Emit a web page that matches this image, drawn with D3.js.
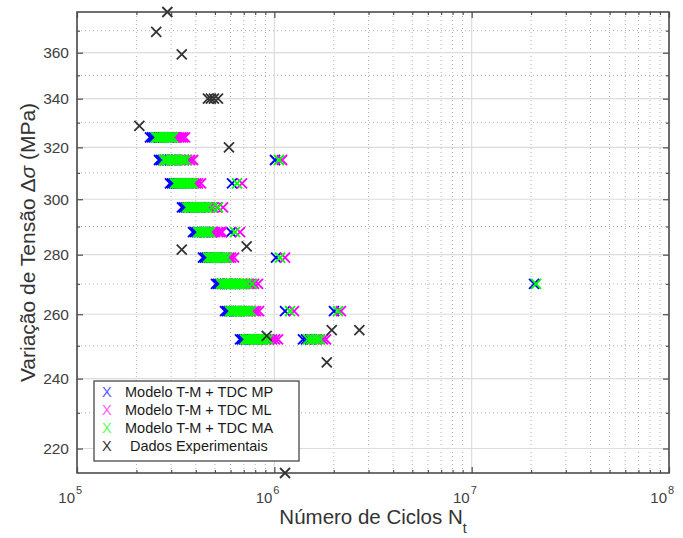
<!DOCTYPE html>
<html>
<head>
<meta charset="utf-8">
<script src="https://cdn.jsdelivr.net/npm/d3@7"></script>
<style>
    body { margin: 0; background: #fff; }
    svg { display: block; font-family: "Liberation Sans", Arial, sans-serif; }
</style>
</head>
<body>
<div id="chart"></div>
<script>
// niveis de tensao (MPa) - um por faixa
var stressLevels = [324, 315, 306, 297, 288, 279, 270, 261, 252];

// ciclos previstos, um array por nivel (mesma ordem de stressLevels)
var cyclesMP = [
    [2.344e5, 2.399e5, 2.456e5, 2.514e5, 2.574e5, 2.634e5, 2.728e5, 2.825e5, 2.926e5, 3.030e5],
    [2.604e5, 2.665e5, 2.728e5, 2.792e5, 2.858e5, 2.960e5, 3.065e5, 3.174e5, 3.327e5, 1.008e6],
    [2.960e5, 3.030e5, 3.101e5, 3.174e5, 3.249e5, 3.366e5, 3.486e5, 3.610e5, 6.104e5],
    [3.405e5, 3.486e5, 3.568e5, 3.652e5, 3.783e5, 3.917e5, 4.057e5, 4.202e5],
    [3.872e5, 3.963e5, 4.057e5, 4.153e5, 4.301e5, 4.454e5, 4.613e5, 4.833e5, 6.033e5],
    [4.351e5, 4.454e5, 4.559e5, 4.667e5, 4.777e5, 4.948e5, 5.124e5, 5.306e5, 1.020e6],
    [5.064e5, 5.184e5, 5.306e5, 5.431e5, 5.625e5, 5.826e5, 6.033e5, 6.322e5, 2.072e7],
    [5.625e5, 5.758e5, 5.894e5, 6.033e5, 6.248e5, 6.471e5, 6.701e5, 1.133e6, 2.006e6],
    [6.701e5, 6.860e5, 7.022e5, 7.188e5, 7.443e5, 7.709e5, 7.984e5, 8.268e5, 1.397e6, 1.447e6, 1.516e6]
];
var cyclesML = [
    [2.634e5, 2.760e5, 2.892e5, 3.030e5, 3.137e5, 3.211e5, 3.287e5, 3.366e5, 3.445e5, 3.527e5],
    [2.892e5, 3.030e5, 3.174e5, 3.327e5, 3.486e5, 3.610e5, 3.739e5, 3.872e5, 1.094e6],
    [3.327e5, 3.486e5, 3.652e5, 3.783e5, 3.917e5, 4.010e5, 4.105e5, 4.251e5, 6.860e5],
    [3.872e5, 4.057e5, 4.251e5, 4.402e5, 4.559e5, 4.722e5, 4.890e5, 5.124e5, 5.495e5],
    [4.402e5, 4.613e5, 4.833e5, 5.006e5, 5.184e5, 5.306e5, 5.431e5, 6.701e5],
    [4.833e5, 5.064e5, 5.306e5, 5.560e5, 5.758e5, 5.894e5, 6.033e5, 6.248e5, 1.133e6],
    [5.758e5, 6.033e5, 6.322e5, 6.624e5, 6.860e5, 7.104e5, 7.357e5, 7.619e5, 7.891e5, 8.268e5],
    [6.396e5, 6.701e5, 7.022e5, 7.357e5, 7.619e5, 7.891e5, 8.077e5, 8.365e5, 1.258e6, 2.176e6],
    [7.531e5, 7.891e5, 8.268e5, 8.664e5, 9.078e5, 9.401e5, 9.736e5, 1.008e6, 1.044e6,
     1.552e6, 1.626e6, 1.704e6, 1.764e6, 1.827e6]
];
var cyclesMA = [
    [2.514e5, 2.574e5, 2.634e5, 2.696e5, 2.760e5, 2.825e5, 2.892e5, 2.960e5, 3.030e5, 3.065e5],
    [2.760e5, 2.825e5, 2.892e5, 2.995e5, 3.101e5, 3.211e5, 3.327e5, 3.445e5, 3.568e5, 1.056e6],
    [3.137e5, 3.211e5, 3.287e5, 3.366e5, 3.445e5, 3.527e5, 3.610e5, 3.695e5, 3.783e5, 3.872e5, 6.471e5],
    [3.610e5, 3.695e5, 3.783e5, 3.872e5, 3.963e5, 4.057e5, 4.153e5, 4.251e5, 4.351e5, 4.454e5,
     4.559e5, 4.833e5, 5.184e5],
    [4.105e5, 4.202e5, 4.301e5, 4.402e5, 4.506e5, 4.613e5, 4.722e5, 6.322e5],
    [4.613e5, 4.722e5, 4.833e5, 4.948e5, 5.064e5, 5.184e5, 5.306e5, 5.431e5, 5.560e5, 5.758e5, 1.069e6],
    [5.368e5, 5.495e5, 5.625e5, 5.758e5, 5.894e5, 6.033e5, 6.176e5, 6.322e5, 6.471e5, 6.624e5,
     6.780e5, 7.022e5, 7.272e5, 7.709e5, 2.121e7],
    [5.963e5, 6.104e5, 6.248e5, 6.396e5, 6.547e5, 6.701e5, 6.860e5, 7.022e5, 7.188e5, 7.357e5,
     7.619e5, 1.201e6, 2.102e6],
    [7.104e5, 7.272e5, 7.443e5, 7.619e5, 7.800e5, 7.984e5, 8.172e5, 8.365e5, 8.563e5, 8.766e5,
     8.973e5, 9.292e5, 1.481e6, 1.534e6, 1.589e6, 1.645e6, 1.704e6]
];

// dados experimentais
var expStress = [378.7, 369.5, 359.3, 340, 340, 340, 340, 328.7, 320, 282.9, 281.8, 254.9, 254.9, 253.1, 244.9, 213.4];
var expCycles = [2.87e5, 2.52e5, 3.395e5, 4.61e5, 4.77e5, 4.94e5, 5.18e5, 2.07e5, 5.89e5, 7.24e5, 3.395e5,
    1.954e6, 2.697e6, 9.15e5, 1.844e6, 1.133e6];

var yTicks = [220, 240, 260, 280, 300, 320, 340, 360];
var yMinorTicks = [230, 250, 270, 290, 310, 330, 350, 370];
var xExponents = [5, 6, 7, 8];

var legendLabels = ["Modelo T-M + TDC MP", "Modelo T-M + TDC ML", "Modelo T-M + TDC MA", "Dados Experimentais"];

var width = 683, height = 538;
// area do grafico (nao usar "top", conflita com window.top)
var pLeft = 77, pRight = 669, pTop = 12, pBottom = 473;

var svg = d3.select("#chart").append("svg").attr("width", width).attr("height", height);

var x = d3.scaleLog().domain([1e5, 1e8]).range([pLeft, pRight]);
var y = d3.scaleLog().domain([213.4, 378.7]).range([pBottom, pTop]);

// minor x values 2..9 x decada
var xMinor = [];
xExponents.slice(0, 3).forEach(function (e) {
    d3.range(2, 10).forEach(function (m) { xMinor.push(m * Math.pow(10, e)); });
});
var xMajor = xExponents.map(function (e) { return Math.pow(10, e); });

// grade
var grid = svg.append("g");
grid.selectAll(".xmin").data(xMinor).enter().append("line")
    .attr("x1", d => x(d)).attr("x2", d => x(d)).attr("y1", pTop).attr("y2", pBottom)
    .attr("stroke", "#b0b0b0").attr("stroke-width", 1).attr("stroke-dasharray", "1,3");
grid.selectAll(".ymin").data(yMinorTicks).enter().append("line")
    .attr("y1", d => y(d)).attr("y2", d => y(d)).attr("x1", pLeft).attr("x2", pRight)
    .attr("stroke", "#b0b0b0").attr("stroke-width", 1).attr("stroke-dasharray", "1,3");
grid.selectAll(".xmaj").data(xMajor).enter().append("line")
    .attr("x1", d => x(d)).attr("x2", d => x(d)).attr("y1", pTop).attr("y2", pBottom)
    .attr("stroke", "#dcdcdc").attr("stroke-width", 1.2);
grid.selectAll(".ymaj").data(yTicks).enter().append("line")
    .attr("y1", d => y(d)).attr("y2", d => y(d)).attr("x1", pLeft).attr("x2", pRight)
    .attr("stroke", "#dcdcdc").attr("stroke-width", 1.2);

// eixos (ticks para dentro, caixa fechada)
var axisColor = "#4d4d4d";
var axes = svg.append("g");
axes.append("g").attr("transform", "translate(0," + pBottom + ")")
    .call(d3.axisBottom(x).tickValues(xMajor).tickSize(-6).tickFormat(""));
axes.append("g").attr("transform", "translate(0," + pBottom + ")")
    .call(d3.axisBottom(x).tickValues(xMinor).tickSize(-3).tickFormat(""));
axes.append("g").attr("transform", "translate(0," + pTop + ")")
    .call(d3.axisTop(x).tickValues(xMajor).tickSize(-6).tickFormat(""));
axes.append("g").attr("transform", "translate(0," + pTop + ")")
    .call(d3.axisTop(x).tickValues(xMinor).tickSize(-3).tickFormat(""));
axes.append("g").attr("transform", "translate(" + pLeft + ",0)")
    .call(d3.axisLeft(y).tickValues(yTicks).tickSize(-6).tickFormat(""));
axes.append("g").attr("transform", "translate(" + pLeft + ",0)")
    .call(d3.axisLeft(y).tickValues(yMinorTicks).tickSize(-3).tickFormat(""));
axes.append("g").attr("transform", "translate(" + pRight + ",0)")
    .call(d3.axisRight(y).tickValues(yTicks).tickSize(-6).tickFormat(""));
axes.append("g").attr("transform", "translate(" + pRight + ",0)")
    .call(d3.axisRight(y).tickValues(yMinorTicks).tickSize(-3).tickFormat(""));
axes.selectAll(".domain").remove();
axes.selectAll(".tick line").attr("stroke", axisColor).attr("stroke-width", 1.2);
svg.append("rect").attr("x", pLeft).attr("y", pTop).attr("width", pRight - pLeft).attr("height", pBottom - pTop)
    .attr("fill", "none").attr("stroke", axisColor).attr("stroke-width", 1.6);

// rotulos dos ticks
svg.append("g").selectAll("text").data(yTicks).enter().append("text")
    .attr("x", pLeft - 8).attr("y", d => y(d) + 5.5)
    .attr("text-anchor", "end").attr("font-size", 15.5).attr("fill", "#404040")
    .text(d => d);
var xl = svg.append("g").selectAll("g").data(xExponents).enter().append("g");
xl.append("text").attr("x", d => x(Math.pow(10, d)) - 2).attr("y", 503)
    .attr("text-anchor", "end").attr("font-size", 15).attr("fill", "#404040").text("10");
xl.append("text").attr("x", d => x(Math.pow(10, d)) - 1).attr("y", 494)
    .attr("font-size", 11).attr("fill", "#404040").text(d => d);

// "x" marker
function xPath(cx, cy, r) {
    return "M" + (cx - r) + "," + (cy - r) + "L" + (cx + r) + "," + (cy + r) +
        "M" + (cx - r) + "," + (cy + r) + "L" + (cx + r) + "," + (cy - r);
}
function flatten(cycles) {
    var pts = [];
    cycles.forEach(function (row, i) {
        row.forEach(function (n) { pts.push({ n: n, s: stressLevels[i] }); });
    });
    return pts;
}
function drawSeries(pts, color, r, sw) {
    svg.append("g").selectAll("path").data(pts).enter().append("path")
        .attr("d", d => xPath(x(d.n), y(d.s), r))
        .attr("stroke", color).attr("stroke-width", sw).attr("fill", "none");
}
// ordem: MP, ML, MA (verde por cima)
drawSeries(flatten(cyclesMP), "#0000ff", 5, 1.9);
drawSeries(flatten(cyclesML), "#ff00ff", 5, 1.9);
drawSeries(flatten(cyclesMA), "#00ff00", 5, 1.9);
drawSeries(expCycles.map(function (n, i) { return { n: n, s: expStress[i] }; }), "#333333", 5, 1.8);

// legenda
var lg = svg.append("g");
lg.append("rect").attr("x", 94).attr("y", 381).attr("width", 205).attr("height", 80)
    .attr("fill", "#fff").attr("stroke", "#555").attr("stroke-width", 1.4);
var legendColors = ["#5a5aff", "#ff5aff", "#5aff5a", "#333333"];
legendLabels.forEach(function (t, i) {
    var cy = 396.5 + i * 18;
    lg.append("text").attr("x", 102).attr("y", cy).attr("font-size", 14.5)
        .attr("fill", legendColors[i]).text("X");
    lg.append("text").attr("x", i < 3 ? 125 : 130).attr("y", cy).attr("font-size", 14.5)
        .attr("fill", "#1a1a1a").text(t);
});

// titulos dos eixos
var xt = svg.append("text").attr("x", (pLeft + pRight) / 2).attr("y", 524)
    .attr("text-anchor", "middle").attr("font-size", 20.5).attr("fill", "#333");
xt.append("tspan").text("Número de Ciclos N");
xt.append("tspan").attr("dy", 9).attr("font-size", 14).text("t");

var yt = svg.append("text").attr("transform", "translate(35," + ((pTop + pBottom) / 2) + ") rotate(-90)")
    .attr("text-anchor", "middle").attr("font-size", 21).attr("fill", "#333");
yt.append("tspan").text("Variação de Tensão Δ");
yt.append("tspan").attr("font-style", "italic").text("σ");
yt.append("tspan").text(" (MPa)");
</script>
</body>
</html>
